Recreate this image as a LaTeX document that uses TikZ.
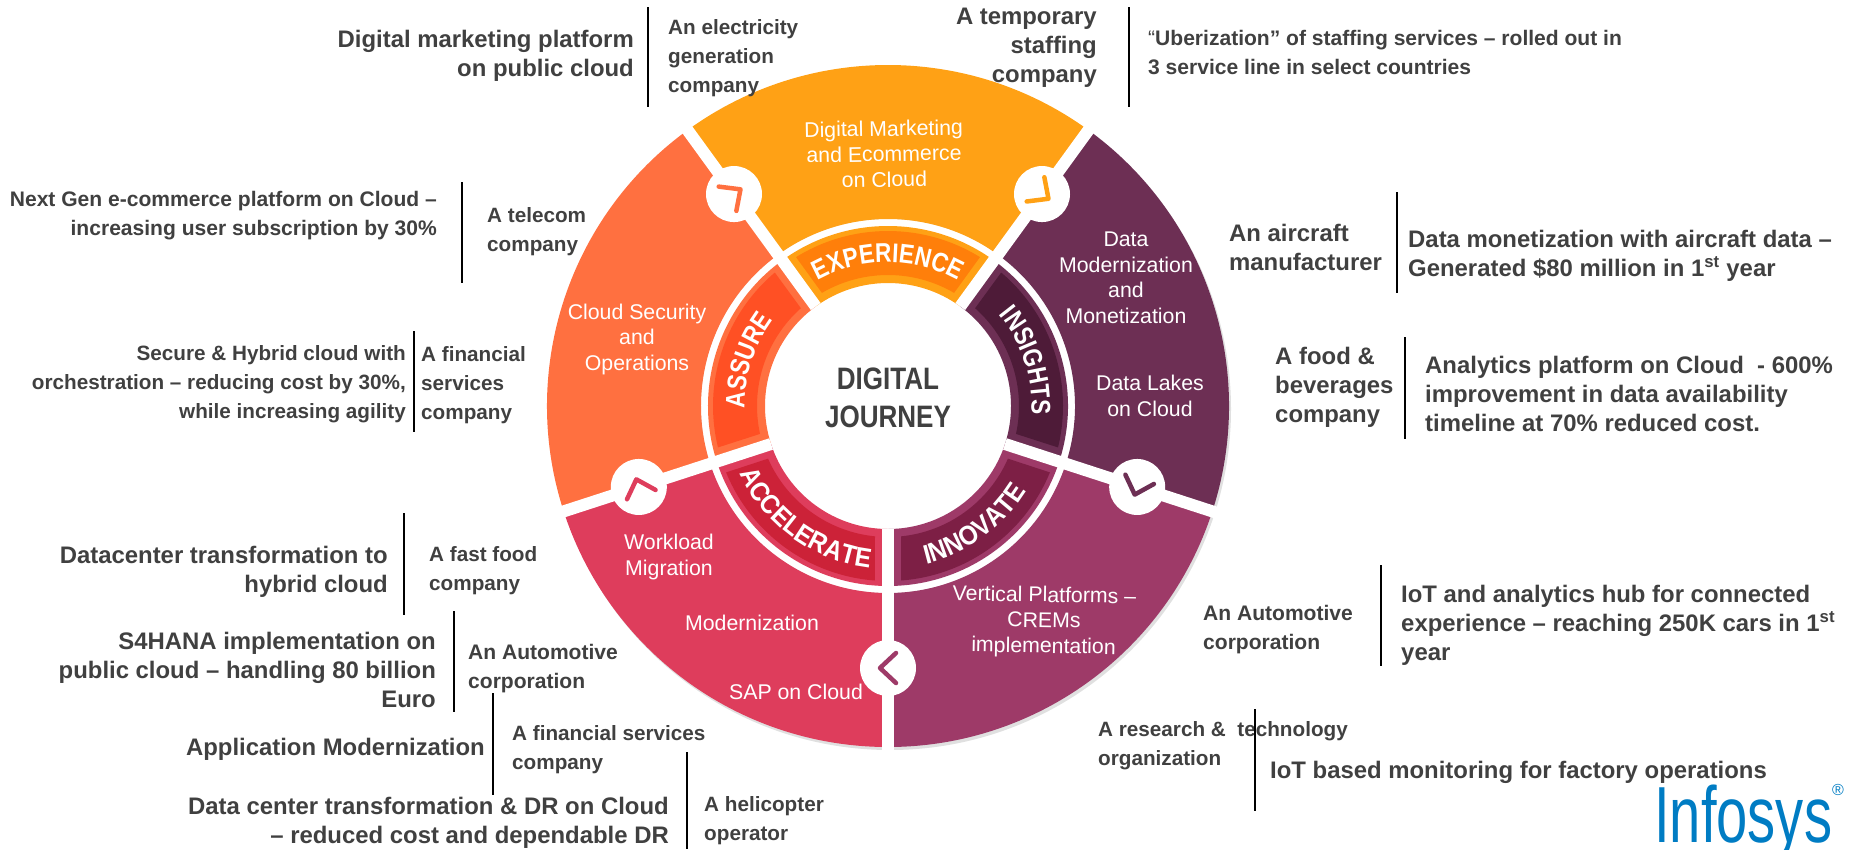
\documentclass[tikz,border=0pt]{standalone}
\usepackage{fontspec}
\setmainfont{Liberation Sans}
\newfontfamily\narrowfont[FakeStretch=0.84]{Liberation Sans}
\newfontfamily\halfnarrowfont[FakeStretch=0.91]{Liberation Sans}
\usetikzlibrary{decorations.text}
\definecolor{textgrey}{HTML}{404040}
\definecolor{logoblue}{HTML}{007CC3}
\definecolor{expouter}{HTML}{FFA115}
\definecolor{expinner}{HTML}{FF7F0A}
\definecolor{assouter}{HTML}{FF7040}
\definecolor{assinner}{HTML}{FF5024}
\definecolor{accouter}{HTML}{DE3D5C}
\definecolor{accinner}{HTML}{CC2238}
\definecolor{innouter}{HTML}{9E3A68}
\definecolor{innitner}{HTML}{7D1F45}
\definecolor{insouter}{HTML}{6D2F54}
\definecolor{insinner}{HTML}{4E1B38}
\newcommand{\ringfont}{\fontsize{27}{27}\narrowfont\bfseries}
\newcommand{\ringfontwide}{\fontsize{27}{27}\halfnarrowfont\bfseries}
\tikzset{
    bigbold/.style={inner sep=0pt,text=textgrey,font=\fontsize{23.9}{29}\selectfont\bfseries},
    midbold/.style={inner sep=0pt,text=textgrey,font=\fontsize{20.7}{29}\selectfont\bfseries},
    widebold/.style={inner sep=0pt,text=textgrey,font=\fontsize{21.05}{29}\selectfont\bfseries},
    lefttext/.style={anchor=west,align=left},
    righttext/.style={anchor=east,align=right},
    wheeltext/.style={inner sep=0pt,text=white,align=center,font=\fontsize{21.3}{25.5}\selectfont},
    seprule/.style={black,line width=1.5pt},
    ringlabel/.style={decorate,decoration={text along path,text color=white,text align=center,text={|\ringfont|#1}}},
    ringlabelwide/.style={decorate,decoration={text along path,text color=white,text align=center,text={|\ringfontwide|#1}}}
}

\begin{document}
\begin{tikzpicture}[x=1pt,y=-1pt]
    \useasboundingbox (0,0) rectangle (1853,849);
    \newcommand{\wheelrad}{341}
    \newcommand{\ringout}{187}
    \newcommand{\bandout}{180}
    \newcommand{\bandin}{123}
    \newcommand{\darkout}{175}
    \newcommand{\darkin}{131}
    \newcommand{\bubblerad}{262}
    \begin{scope}[shift={(888,406)},y=1pt]
        % soft edge under the wheel
        \fill[black!12] (2,-3) circle (\wheelrad);
        \fill[white] (0,0) circle (\ringout);
        \foreach \segstart/\segend/\segouter/\seginner in {54/126/expouter/expinner,126/198/assouter/assinner,198/270/accouter/accinner,270/342/innouter/innitner,-18/54/insouter/insinner}{
            \pgfmathsetmacro{\darka}{\segstart+4.3}
            \pgfmathsetmacro{\darkb}{\segend-4.3}
            \pgfmathsetmacro{\darkc}{\segend-5.7}
            \pgfmathsetmacro{\darkd}{\segstart+5.7}
            \fill[\segouter] (\segstart:\ringout) arc (\segstart:\segend:\ringout) -- (\segend:\wheelrad) arc (\segend:\segstart:\wheelrad) -- cycle;
            \fill[\segouter] (\segstart:\bandin) arc (\segstart:\segend:\bandin) -- (\segend:\bandout) arc (\segend:\segstart:\bandout) -- cycle;
            \fill[\seginner] (\darka:\darkout) arc (\darka:\darkb:\darkout) -- (\darkc:\darkin) arc (\darkc:\darkd:\darkin) -- cycle;
        }
        % white gaps and bubbles
        \foreach \gapangle in {54,126,198,270,342}{
            \draw[white,line width=12pt] (\gapangle:\bandin) -- (\gapangle:350);
        }
        \foreach \gapangle/\arrowcolor in {54/expouter,126/assouter,198/accouter,270/innouter,342/insouter}{
            \fill[white] (\gapangle:\bubblerad) circle (28);
            \begin{scope}[shift={(\gapangle:\bubblerad)},rotate=\gapangle-90]
                \draw[\arrowcolor,line width=4.5pt,line cap=round,line join=round] (-8,15) -- (8,0) -- (-8,-15);
            \end{scope}
        }
        \path[ringlabel=EXPERIENCE] (130:143.5) arc (130:50:143.5);
        \path[ringlabel=INSIGHTS] (58:143.5) arc (58:-22:143.5);
        \path[ringlabel=ASSURE] (202:143.5) arc (202:122:143.5);
        \path[ringlabelwide=ACCELERATE] (190:162.5) arc (190:278:162.5);
        \path[ringlabelwide=INNOVATE] (262:162.5) arc (262:350:162.5);
    \end{scope}

    % middle
    \node[inner sep=0pt,align=center,text=textgrey,font=\fontsize{31}{38}\narrowfont\bfseries] (journey) at (888,398) {DIGITAL\\JOURNEY};

    % wheel texts
    \node[wheeltext,rotate=1] (wmarketing) at (884,154) {Digital Marketing\\and Ecommerce\\on Cloud};
    \node[wheeltext] (wdatamod) at (1126,278) {Data\\Modernization\\and\\Monetization};
    \node[wheeltext] (wlakes) at (1150,396) {Data Lakes\\on Cloud};
    \node[wheeltext,rotate=-1] (wvertical) at (1044,622) {Vertical Platforms --\\CREMs\\implementation};
    \node[wheeltext] (wworkload) at (669,557) {Workload\\Migration};
    \node[wheeltext] (wmodern) at (752,623) {Modernization};
    \node[wheeltext] (wsap) at (796,692) {SAP on Cloud};
    \node[wheeltext] (wsecurity) at (637,339) {Cloud Security\\and\\Operations};

    % callouts, top left and round
    \node[bigbold,righttext] (digimark) at (634,56) {Digital marketing platform\\on public cloud};
    \node[midbold,lefttext] (electric) at (668,58) {An electricity\\generation\\company};
    \node[widebold,righttext] (nextgen) at (437,216) {Next Gen e-commerce platform on Cloud --\\increasing user subscription by 30\%};
    \node[midbold,lefttext] (telecom) at (487,232) {A telecom\\company};
    \node[midbold,righttext] (hybrid) at (406,384) {Secure \& Hybrid cloud with\\orchestration -- reducing cost by 30\%,\\while increasing agility};
    \node[midbold,lefttext] (finance) at (421,385) {A financial\\services\\company};
    \node[bigbold,righttext] (datacenter) at (388,572) {Datacenter transformation to\\hybrid cloud};
    \node[midbold,lefttext] (fastfood) at (429,571) {A fast food\\company};
    \node[bigbold,righttext] (hana) at (436,670) {S4HANA implementation on\\public cloud -- handling 80 billion\\Euro};
    \node[widebold,lefttext] (autoleft) at (468,669) {An Automotive\\corporation};
    \node[bigbold,righttext] (appmod) at (485,749) {Application Modernization};
    \node[midbold,lefttext] (finservice) at (512,750) {A financial services\\company};
    \node[bigbold,righttext] (drcloud) at (669,823) {Data center transformation \& DR on Cloud\\-- reduced cost and dependable DR};
    \node[midbold,lefttext] (heli) at (704,821) {A helicopter\\operator};
    \node[bigbold,righttext] (staffing) at (1097,48) {A temporary\\staffing\\company};
    \node[widebold,lefttext] (uber) at (1148,52) {{\mdseries “}Uberization” of staffing services -- rolled out in\\3 service line in select countries};
    \node[bigbold,lefttext] (aircraft) at (1229,247) {An aircraft\\manufacturer};
    \node[bigbold,lefttext] (monetize) at (1408,256) {Data monetization with aircraft data --\\Generated \$80 million in 1\textsuperscript{st} year};
    \node[bigbold,lefttext] (food) at (1275,387) {A food \&\\beverages\\company};
    \node[bigbold,lefttext] (analytics) at (1425,394) {Analytics platform on Cloud~~- 600\%\\improvement in data availability\\timeline at 70\% reduced cost.};
    \node[widebold,lefttext] (autoright) at (1203,630) {An Automotive\\corporation};
    \node[bigbold,lefttext] (iothub) at (1401,625) {IoT and analytics hub for connected\\experience -- reaching 250K cars in 1\textsuperscript{st}\\year};
    \node[midbold,lefttext] (research) at (1098,746) {A research \&~~technology\\organization};
    \node[bigbold,lefttext] (iotfactory) at (1270,772) {IoT based monitoring for factory operations};

    % rules between the callout columns
    \foreach \rulex/\rulea/\ruleb in {648/7/107,462/182/283,414/331/432,404/513/615,454/611/712,493/693/795,687/752/849,1129/7/107,1397/192/293,1405/337/439,1381/565/666,1255/709/811}{
        \draw[seprule] (\rulex,\rulea) -- (\rulex,\ruleb);
    }

    % logo
    \node[anchor=base west,inner sep=0pt,text=logoblue] (logoname) at (1654,842) {\scalebox{0.72}[1.02]{\fontsize{78}{78}\selectfont Infosys}};
    \node[inner sep=0pt,text=logoblue,font=\fontsize{16}{16}\selectfont] (logoreg) at (1838,790) {®};
\end{tikzpicture}
\end{document}
